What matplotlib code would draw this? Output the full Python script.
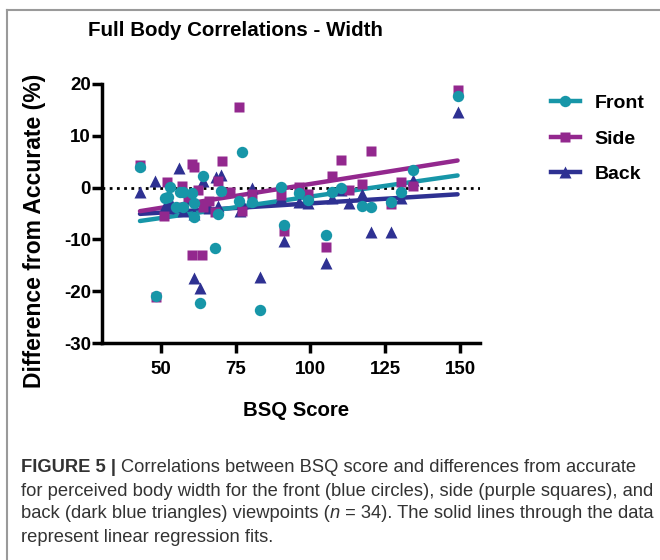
import numpy as np
import matplotlib
matplotlib.use("Agg")
import matplotlib.pyplot as plt
from matplotlib.lines import Line2D

plt.rcParams['font.family'] = ['Liberation Sans', 'DejaVu Sans']
plt.rcParams['axes.unicode_minus'] = False

# ---- data ----
front_x = [43, 48.2, 51.3, 52.5, 53, 55.2, 56.4, 57.5, 57.5, 60.3, 61.1, 61.1, 63, 64.1, 68.1, 69.2, 70.1,
           76.1, 77.1, 80.3, 83.1, 90, 91.1, 96.3, 99.3, 105.2, 107.1, 110.2, 117.1, 120.1, 127.1, 130.2, 134.2, 149.2]
front_y = [3.9, -21.0, -2.1, -1.8, 0.2, -3.8, -0.9, -0.9, -3.8, -1.1, -3.0, -5.7, -22.3, 2.2, -11.7, -5.1, -0.6,
           -2.5, 6.9, -2.8, -23.6, 0.1, -7.2, -1.0, -2.3, -9.1, -0.9, -0.1, -3.5, -3.7, -2.7, -0.8, 3.4, 17.6]

side_x = [43, 48.2, 51, 52.1, 57.1, 60.3, 61.1, 60.5, 63.8, 64.1, 69.2, 70.3, 76.1, 77.2, 80.3, 90, 91.1,
          96.3, 99.3, 105.2, 107.3, 110.2, 117.1, 120.2, 127.1, 130.2, 134.2, 149.2,
          59, 68.1, 62.5, 66, 73, 113]
side_y = [4.4, -21.2, -5.4, 1.0, 0.4, 4.6, 4.05, -13.0, -13.0, -3.8, 1.2, 5.2, 15.5, -4.6, -1.3, -1.4, -8.3,
          0.2, -1.3, -11.5, 2.2, 5.4, 0.7, 7.1, -3.1, 1.0, 0.4, 18.9,
          -1.8, -4.8, -0.5, -2.5, -0.8, -0.5]

back_x = [43, 48.1, 56.1, 64.1, 68.3, 70.1, 61.1, 63, 83.1, 91.1, 105.2, 120.2, 127.1, 149.2, 76.3, 80.3,
          96.3, 110.2, 117.1, 134.2,
          51.3, 53, 57.5, 60.3, 61.1, 69.2, 77.1, 90, 99.3, 107.1, 130.2, 52.5, 66, 113]
back_y = [-0.9, 1.35, 3.7, 1.35, 2.0, 2.5, -17.4, -19.4, -17.2, -10.4, -14.5, -8.5, -8.5, 14.5, -4.5, 0.0,
          -2.8, -0.5, -1.3, 1.5,
          -3.5, -2.5, -4.5, -2.0, -5.0, -3.5, -3.0, -2.0, -3.0, -2.0, -2.0, -4.0, -4.0, -3.0]

labels = ["Front", "Side", "Back"]
colors = ["#1796a8", "#93288e", "#2e3192"]
markers = ["o", "s", "^"]
msizes = [8.2, 7.8, 8.0]
xticks = [50, 75, 100, 125, 150]
yticks = [-30, -20, -10, 0, 10, 20]

series = [(front_x, front_y), (side_x, side_y), (back_x, back_y)]

fig = plt.figure(figsize=(6.6, 5.6), dpi=100)
ax = fig.add_axes([102/660, 1-343/560, (480-102)/660, (343-84)/560])
ax.set_xlim(30.3, 156.7)
ax.set_ylim(-30, 20)

# zero reference
ax.axhline(0, color="black", linestyle=(0, (1, 1.6)), linewidth=2.0, zorder=1)

# regression lines
for (xs, ys), c in zip(series[::-1], colors[::-1]):
    xs = np.array(xs); ys = np.array(ys)
    k, b = np.polyfit(xs, ys, 1)
    xx = np.array([xs.min(), xs.max()])
    ax.plot(xx, k*xx + b, color=c, linewidth=3.2, solid_capstyle='round', zorder=2)

# points
for (xs, ys), c, m, ms in zip(series[::-1], colors[::-1], markers[::-1], msizes[::-1]):
    ax.plot(xs, ys, linestyle='none', marker=m, markersize=ms, color=c,
            markeredgecolor='none', zorder=3)

for s in ["top", "right"]:
    ax.spines[s].set_visible(False)
for s in ["left", "bottom"]:
    ax.spines[s].set_linewidth(2.5)
ax.set_xticks(xticks)
ax.set_yticks(yticks)
ax.tick_params(axis='both', direction='out', length=7, width=2.5, labelsize=13.5)
ax.tick_params(axis='x', pad=6)
ax.tick_params(axis='y', pad=1)
for lab in ax.get_xticklabels() + ax.get_yticklabels():
    lab.set_fontweight('bold')

# legend
handles = [Line2D([0], [0], color=c, marker=m, markersize=ms, linewidth=3.2, markeredgecolor='none')
           for c, m, ms in zip(colors, markers, msizes)]
ax.legend(handles, labels, loc='upper left', bbox_to_anchor=(533/660, 1-77/560),
          bbox_transform=fig.transFigure, frameon=False, handlelength=1.5, handletextpad=0.75,
          labelspacing=0.92, prop={'weight': 'bold', 'size': 14})

# titles
fig.text(235/660, 1-31/560, "Full Body Correlations - Width", ha='center', va='center',
         fontsize=14.8, fontweight='bold')
fig.text(296/660, 1-410/560, "BSQ Score", ha='center', va='center', fontsize=14.7, fontweight='bold')
fig.text(35/660, 1-231/560, "Difference from Accurate (%)", ha='center', va='center',
         rotation=90, fontsize=16.5, fontweight='bold')

# frame lines
fig.add_artist(Line2D([7/660, 7/660], [0, 1-10/560], color="#9a9a9a", linewidth=1.5,
                      transform=fig.transFigure))
fig.add_artist(Line2D([7/660, 1], [1-10/560, 1-10/560], color="#9a9a9a", linewidth=1.5,
                      transform=fig.transFigure))

# caption
cap_lines = [
    [("FIGURE 5 | ", 'bold', 'normal'), ("Correlations between BSQ score and differences from accurate", 'normal', 'normal')],
    [("for perceived body width for the front (blue circles), side (purple squares), and", 'normal', 'normal')],
    [("back (dark blue triangles) viewpoints (", 'normal', 'normal'), ("n", 'normal', 'italic'),
     (" = 34). The solid lines through the data", 'normal', 'normal')],
    [("represent linear regression fits.", 'normal', 'normal')],
]
cap_y = [467, 491, 514, 538]
renderer = fig.canvas.get_renderer()
for pieces, yy in zip(cap_lines, cap_y):
    x0 = 21
    for txt, w, st in pieces:
        t = fig.text(x0/660, 1-yy/560, txt, ha='left', va='center', fontsize=13.2,
                     fontweight=w, fontstyle=st, color="#333333")
        bb = t.get_window_extent(renderer=renderer)
        x0 += bb.width

fig.savefig("out.png", dpi=100)
